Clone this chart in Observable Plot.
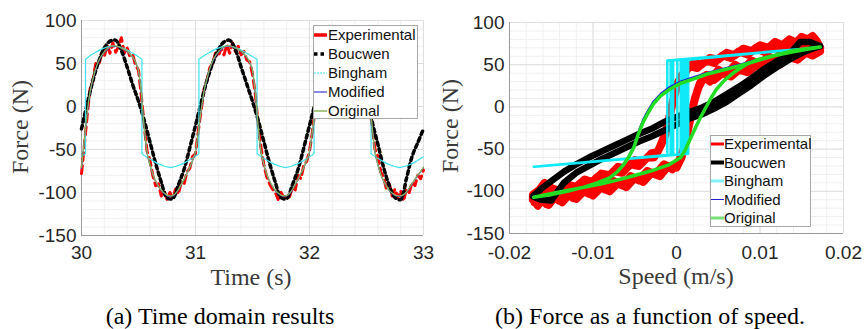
<!DOCTYPE html>
<html><head><meta charset="utf-8">
<script src="https://cdn.jsdelivr.net/npm/d3@7"></script>
<script src="https://cdn.jsdelivr.net/npm/@observablehq/plot@0.6"></script>
<style>
body{margin:0;background:#fff}
#root{position:relative;width:864px;height:329px;overflow:hidden;background:#fff}
.pl{position:absolute;top:0}
.ttl{position:absolute;font-family:"Liberation Serif","Times New Roman",serif;font-size:24px;line-height:24px;color:#3a3a3a;white-space:nowrap;transform:translate(-50%,-50%)}
.cap{position:absolute;font-family:"Liberation Serif","Times New Roman",serif;font-size:24px;line-height:24px;color:#000;white-space:nowrap;transform:translate(-50%,-50%)}
</style></head><body>
<div id="root">
  <div id="p1" class="pl" style="left:0"></div>
  <div id="p2" class="pl" style="left:432px"></div>
  <div class="ttl" style="left:20px;top:127px;transform:translate(-50%,-50%) rotate(-90deg)">Force (N)</div>
  <div class="ttl" style="left:450px;top:126px;transform:translate(-50%,-50%) rotate(-90deg)">Force (N)</div>
  <div class="ttl" style="left:251px;top:277px">Time (s)</div>
  <div class="ttl" style="left:676px;top:276px">Speed (m/s)</div>
  <div class="cap" style="left:220px;top:316px">(a) Time domain results</div>
  <div class="cap" style="left:650px;top:316px">(b) Force as a function of speed.</div>
</div>
<script>
// ---------- labels / ticks ----------
const seriesNames = ["Experimental", "Boucwen", "Bingham", "Modified", "Original"];
const timeTicks = [30, 31, 32, 33];
const forceTicks = [-150, -100, -50, 0, 50, 100];
const speedTicks = [-0.02, -0.01, 0, 0.01, 0.02];

// ---------- (a) time domain ----------
const timeS = [
30.000,30.025,30.050,30.075,30.100,30.125,30.150,30.175,30.200,30.225,
30.250,30.275,30.300,30.325,30.350,30.375,30.400,30.425,30.450,30.475,
30.500,30.525,30.550,30.575,30.600,30.625,30.650,30.675,30.700,30.725,
30.750,30.775,30.800,30.825,30.850,30.875,30.900,30.925,30.950,30.975,
31.000,31.025,31.050,31.075,31.100,31.125,31.150,31.175,31.200,31.225,
31.250,31.275,31.300,31.325,31.350,31.375,31.400,31.425,31.450,31.475,
31.500,31.525,31.550,31.575,31.600,31.625,31.650,31.675,31.700,31.725,
31.750,31.775,31.800,31.825,31.850,31.875,31.900,31.925,31.950,31.975,
32.000,32.025,32.050,32.075,32.100,32.125,32.150,32.175,32.200,32.225,
32.250,32.275,32.300,32.325,32.350,32.375,32.400,32.425,32.450,32.475,
32.500,32.525,32.550,32.575,32.600,32.625,32.650,32.675,32.700,32.725,
32.750,32.775,32.800,32.825,32.850,32.875,32.900,32.925,32.950,32.975,
33.000];
const expForceT = [
-78,-45,-10,20,30,50,48,60,58,72, 62,74,63,70,80,62,68,58,60,48,
42,12,-22,-52,-62,-80,-92,-90,-104,-98, -108,-100,-106,-96,-102,-88,-90,-76,-72,-58,
-55,-28,-4,20,30,45,50,62,58,68, 60,72,62,74,64,70,60,64,54,52,
38,14,-22,-48,-68,-82,-90,-96,-100,-108, -100,-106,-102,-105,-94,-97,-80,-84,-68,-64,
-52,-30,-2,20,32,44,52,60,64,68, 70,70,69,68,66,63,60,56,50,42,
30,5,-25,-50,-58,-76,-82,-96,-90,-104, -96,-106,-98,-110,-96,-100,-88,-92,-80,-84,
-74];
const modForceT = [
-72,-40,-8,16,31,43,52,58,63,66, 69,70,70,69,68,66,64,61,57,51,
41,14,-25,-54,-68,-79,-87,-93,-98,-101, -103.5,-104.5,-104,-101.5,-97,-91,-85,-78,-71,-63,
-53,-30,-5,17,31,43,52,58,63,66, 69,70,70,69,68,66,64,61,57,51,
41,14,-25,-54,-68,-79,-87,-93,-98,-101, -103.5,-104.5,-104,-101.5,-97,-91,-85,-78,-71,-63,
-53,-30,-5,17,31,43,52,58,63,66, 69,70,70,69,68,66,64,61,57,51,
41,14,-25,-54,-68,-79,-87,-93,-98,-101, -103.5,-104.5,-104.5,-103,-100,-95,-90,-85,-80,-76,
-71];
const origForceT = [
-71,-39,-7,17,32,44,53,59,63.5,67, 69.5,70.5,70.5,69.5,68,66.5,64.5,61,57.5,51.5,
42,15,-24,-53,-67.5,-78.5,-86.5,-92.5,-97.5,-100.5, -103,-104,-103.5,-101,-96.5,-90.5,-84.5,-77.5,-70.5,-62.5,
-52,-29,-4,18,32,44,53,59,63.5,67, 69.5,70.5,70.5,69.5,68,66.5,64.5,61,57.5,51.5,
42,15,-24,-53,-67.5,-78.5,-86.5,-92.5,-97.5,-100.5, -103,-104,-103.5,-101,-96.5,-90.5,-84.5,-77.5,-70.5,-62.5,
-52,-29,-4,18,32,44,53,59,63.5,67, 69.5,70.5,70.5,69.5,68,66.5,64.5,61,57.5,51.5,
42,15,-24,-53,-67.5,-78.5,-86.5,-92.5,-97.5,-100.5, -103,-104,-104,-102.5,-99.5,-94.5,-89.5,-84.5,-79.5,-75.5,
-70.5];
const bouTime = [
30.00,30.05,30.10,30.15,30.20,30.25,30.30,30.35,30.40,30.45,30.50,30.55,30.60,30.65,30.70,30.75,30.80,30.85,30.90,30.95,
31.00,31.05,31.10,31.15,31.20,31.25,31.30,31.35,31.40,31.45,31.50,31.55,31.60,31.65,31.70,31.75,31.80,31.85,31.90,31.95,
32.00,32.05,32.10,32.15,32.20,32.25,32.30,32.35,32.40,32.45,32.50,32.55,32.60,32.65,32.70,32.75,32.80,32.85,32.90,32.95,
33.00];
const bouForceT = [
-26,3,30,52,68,76,77,65,46,25,6,-16,-41,-66,-88,-106,-107,-91,-73,-48,
-22,5,30,50,66,75,77,66,46,26,6,-16,-41,-66,-88,-106,-107,-91,-73,-48,
-22,4,30,51,67,76,77,68,55,40,14,-18,-44,-71,-92,-106,-108,-84,-58,-42,
-26];
const binTime = [
30.00,30.035,30.035,30.08,30.13,30.18,30.23,30.28,30.33,30.38,30.43,30.48,30.53,30.53,30.58,30.63,30.68,30.73,30.78,30.83,30.88,30.93,30.98,
31.03,31.03,31.08,31.13,31.18,31.23,31.28,31.33,31.38,31.43,31.48,31.54,31.54,31.59,31.64,31.69,31.74,31.79,31.84,31.89,31.94,31.99,
32.04,32.04,32.09,32.14,32.19,32.24,32.29,32.34,32.39,32.44,32.49,32.54,32.54,32.59,32.64,32.69,32.74,32.79,32.84,32.89,32.94,33.00];
const binForceT = [
-58,-55,55,59.5,63.5,67,69.3,70.5,69.3,67,63.5,59.5,55,-55,-59.5,-63.5,-67,-69.5,-71,-69.5,-67,-63.5,-59.5,
-55,55,59.5,63.5,67,69.3,70.5,69.3,67,63.5,59.5,55,-55,-59.5,-63.5,-67,-69.5,-71,-69.5,-67,-63.5,-59.5,
-55,55,59.5,63.5,67,69.3,70.5,69.3,67,63.5,59.5,55,-55,-59.5,-63.5,-67,-69.5,-71,-69.5,-67,-63.5,-58.5];

// ---------- (b) force vs speed ----------
// experimental: two measured cycles (upper branch, then lower branch, twice)
const expSpeed = [
0.0172,0.0168,0.0163,0.0157,0.0150,0.0143,0.0135,0.0127,0.0118,0.0110,
0.0100,0.0090,0.0080,0.0070,0.0060,0.0050,0.0040,0.0030,0.0020,0.0012,
0.0005,0.0000,-0.0005,-0.0009,-0.0013,-0.0018,-0.0023,-0.0030,-0.0040,-0.0050,
-0.0060,-0.0070,-0.0080,-0.0090,-0.0100,-0.0110,-0.0120,-0.0130,-0.0140,-0.0150,
-0.0158,-0.0164,-0.0172,
-0.0172,-0.0166,-0.0160,-0.0153,-0.0145,-0.0137,-0.0128,-0.0120,-0.0110,-0.0100,
-0.0090,-0.0080,-0.0070,-0.0060,-0.0050,-0.0040,-0.0030,-0.0020,-0.0010,0.0000,
0.0006,0.0010,0.0014,0.0018,0.0022,0.0026,0.0030,0.0036,0.0045,0.0055,
0.0065,0.0075,0.0085,0.0095,0.0105,0.0115,0.0125,0.0135,0.0145,0.0155,
0.0163,0.0172,
0.0170,0.0165,0.0160,0.0153,0.0146,0.0139,0.0131,0.0122,0.0114,0.0105,
0.0095,0.0085,0.0075,0.0065,0.0055,0.0045,0.0035,0.0025,0.0016,0.0008,
0.0002,-0.0003,-0.0007,-0.0011,-0.0016,-0.0021,-0.0027,-0.0035,-0.0045,-0.0055,
-0.0065,-0.0075,-0.0085,-0.0095,-0.0105,-0.0115,-0.0125,-0.0135,-0.0145,-0.0155,
-0.0163,-0.0170,
-0.0170,-0.0163,-0.0156,-0.0149,-0.0141,-0.0132,-0.0124,-0.0115,-0.0105,-0.0095,
-0.0085,-0.0075,-0.0065,-0.0055,-0.0045,-0.0035,-0.0025,-0.0015,-0.0005,0.0003,
0.0008,0.0012,0.0016,0.0020,0.0024,0.0028,0.0033,0.0040,0.0050,0.0060,
0.0070,0.0080,0.0090,0.0100,0.0110,0.0120,0.0130,0.0140,0.0150,0.0160,
0.0170];
const expForceV = [
70,78,84,80,83,76,80,73,77,70,
73,66,69,61,64,56,58,50,52,44,
36,22,4,-14,-32,-44,-54,-55,-65,-63,
-73,-71,-81,-79,-89,-86,-95,-92,-100,-96,
-90,-98,-104,
-110,-117,-108,-116,-106,-113,-103,-109,-99,-105,
-95,-100,-90,-95,-84,-89,-78,-82,-70,-72,
-60,-44,-26,-8,10,22,30,38,32,40,
36,44,41,49,46,54,51,59,56,64,
61,66,
74,68,76,72,79,70,75,68,73,65,
70,62,66,58,61,52,55,46,48,38,
30,12,-6,-24,-38,-50,-60,-60,-70,-68,
-78,-76,-86,-83,-93,-90,-99,-95,-104,-99,
-108,-103,
-113,-106,-115,-104,-111,-101,-108,-97,-103,-93,
-98,-88,-93,-82,-87,-76,-80,-68,-74,-64,
-52,-35,-16,2,16,28,36,30,44,38,
50,44,55,50,60,55,65,60,70,64,
72];
const bouSpeed = [
0.0172,0.0160,0.0148,0.0135,0.0120,0.0105,0.0090,0.0075,0.0060,0.0045,0.0030,0.0015,0.0000,-0.0015,-0.0030,-0.0045,-0.0060,-0.0075,-0.0090,-0.0105,-0.0120,-0.0135,-0.0150,-0.0162,-0.0172,
-0.0162,-0.0150,-0.0135,-0.0120,-0.0105,-0.0090,-0.0075,-0.0060,-0.0045,-0.0030,-0.0015,0.0000,0.0015,0.0030,0.0045,0.0060,0.0075,0.0090,0.0105,0.0120,0.0135,0.0150,0.0160,0.0172];
const bouForceV = [
72,77,77,62,54,45,34,24,15,6,-1,-6,-12,-18,-26,-32,-39,-46,-53,-60,-68,-77,-88,-97,-106,
-110,-111,-90,-78,-70,-62,-55,-48,-41,-35,-28,-21,-14,-9,-2,6,16,26,37,47,56,64,68,72];
const binSpeed = [
0.0171,-0.0011,-0.0011,-0.0171,0.0008,0.0008,0.0171,-0.0007,-0.0007,-0.0170,0.0014,0.0014,0.0171,
0.0001,0.0001,-0.0171,0.0011,0.0011,0.0171,-0.0004,-0.0004,-0.0171,0.0005,0.0005,0.0171];
const binForceV = [
70.5,55,-57,-71,-56,55.5,70.5,55.2,-56.8,-71,-55.5,56,70.5,
55.5,-56.5,-71,-55.7,55.7,70.5,55.3,-56.6,-71,-56,55.5,70.5];
const modSpeed = [
0.0172,0.0155,0.0135,0.0117,0.0097,0.0077,0.0057,0.0037,0.0020,0.0005,-0.0008,-0.0019,-0.0028,-0.0035,-0.0040,-0.0046,-0.0051,-0.0057,-0.0063,-0.0071,-0.0080,-0.0095,-0.0111,-0.0131,-0.0151,-0.0171,
-0.0151,-0.0120,-0.0091,-0.0060,-0.0031,-0.0010,0.0005,0.0011,0.0017,0.0023,0.0029,0.0035,0.0041,0.0048,0.0058,0.0069,0.0083,0.0097,0.0117,0.0137,0.0155,0.0172];
const modForceV = [
71,68.5,65,61.5,56.5,51,46,41,35.5,30.5,24,16,6.5,-5,-14,-29,-45,-57,-66.5,-76,-83.5,-89.5,-94.5,-99.5,-103.5,-106.5,
-102.5,-96.5,-91,-83.5,-75.5,-68.5,-59,-48.5,-35.5,-22.5,-10.5,0.5,11.5,22.5,33,42,51,57,62,66.5,69.5,71];
const origSpeed = [
0.0172,0.0155,0.0135,0.0117,0.0097,0.0077,0.0057,0.0037,0.0020,0.0005,-0.0008,-0.0019,-0.0028,-0.0035,-0.0040,-0.0046,-0.0051,-0.0057,-0.0063,-0.0071,-0.0080,-0.0095,-0.0111,-0.0131,-0.0151,-0.0171,
-0.0151,-0.0120,-0.0091,-0.0060,-0.0031,-0.0010,0.0005,0.0011,0.0017,0.0023,0.0029,0.0035,0.0041,0.0048,0.0058,0.0069,0.0083,0.0097,0.0117,0.0137,0.0155,0.0172];
const origForceV = [
71,68,64.5,60.5,55,49,44,39,33,28,21,13,3,-9,-18,-33,-48,-59,-68,-77,-84,-90,-95,-100,-104,-107,
-103,-97,-91.5,-84,-76,-69,-60,-50,-37,-24,-12,-1,10,21,32,41,50,56,61,66,69,71];

// ---------- build ----------
const tbl = (xs, ys) => xs.map((x, i) => ({x, y: ys[i]}));
const fmt = d => String(d);
const sansFamily = '"Liberation Sans", Arial, sans-serif';
const baseStyle = {fontFamily: sansFamily, fontSize: "19px", color: "#262626", background: "transparent", overflow: "visible"};

const left = Plot.plot({
  width: 432, height: 270, marginLeft: 81, marginRight: 9, marginTop: 20, marginBottom: 35,
  style: baseStyle,
  x: {domain: [30, 33], ticks: timeTicks, tickFormat: fmt, tickSize: 0, tickPadding: 10, label: null},
  y: {domain: [-150, 100], ticks: forceTicks, tickFormat: fmt, tickSize: 0, tickPadding: 5, label: null},
  marks: [
    Plot.ruleX(d3.range(30, 33.0001, 0.2), {stroke: "#f0f0f0"}),
    Plot.ruleY(d3.range(-150, 100.001, 10), {stroke: "#f0f0f0"}),
    Plot.ruleX(timeTicks, {stroke: "#dedede"}),
    Plot.ruleY(forceTicks, {stroke: "#dedede"}),
    Plot.ruleX([30], {stroke: "#9a9a9a"}),
    Plot.ruleY([-150], {stroke: "#9a9a9a"}),
    Plot.line(tbl(timeS, expForceT), {x: "x", y: "y", stroke: "#ff0000", strokeWidth: 3, strokeDasharray: "8,5"}),
    Plot.line(tbl(bouTime, bouForceT), {x: "x", y: "y", stroke: "#000", strokeWidth: 3.5, strokeDasharray: "3.5,3.5", curve: "catmull-rom"}),
    Plot.line(tbl(binTime, binForceT), {x: "x", y: "y", stroke: "#3fe3ef", strokeWidth: 1.2}),
    Plot.line(tbl(timeS, modForceT), {x: "x", y: "y", stroke: "#2828c8", strokeWidth: 1.1, curve: "monotone-x"}),
    Plot.line(tbl(timeS, origForceT), {x: "x", y: "y", stroke: "#8cb45c", strokeWidth: 1.3, curve: "monotone-x"})
  ]
});
document.getElementById("p1").appendChild(left);

const right = Plot.plot({
  width: 432, height: 270, marginLeft: 77, marginRight: 21, marginTop: 22, marginBottom: 37,
  style: baseStyle,
  x: {domain: [-0.02, 0.02], ticks: speedTicks, tickFormat: fmt, tickSize: 0, tickPadding: 12, label: null},
  y: {domain: [-150, 100], ticks: forceTicks, tickFormat: fmt, tickSize: 0, tickPadding: 5, label: null},
  marks: [
    Plot.ruleX(d3.range(-0.02, 0.02001, 0.002), {stroke: "#f0f0f0"}),
    Plot.ruleY(d3.range(-150, 100.001, 10), {stroke: "#f0f0f0"}),
    Plot.ruleX(speedTicks, {stroke: "#dedede"}),
    Plot.ruleY(forceTicks, {stroke: "#dedede"}),
    Plot.ruleX([-0.02], {stroke: "#9a9a9a"}),
    Plot.ruleY([-150], {stroke: "#9a9a9a"}),
    Plot.line(tbl(expSpeed, expForceV), {x: "x", y: "y", stroke: "#ff0000", strokeWidth: 8, strokeLinejoin: "round"}),
    Plot.line(tbl(bouSpeed, bouForceV), {x: "x", y: "y", stroke: "#000", strokeWidth: 6.5, strokeLinejoin: "round"}),
    Plot.line(tbl(binSpeed, binForceV), {x: "x", y: "y", stroke: "#10eaf8", strokeWidth: 2.5}),
    Plot.line(tbl(modSpeed, modForceV), {x: "x", y: "y", stroke: "#1a1ae0", strokeWidth: 1.3}),
    Plot.line(tbl(origSpeed, origForceV), {x: "x", y: "y", stroke: "#22dd22", strokeWidth: 3.5, strokeLinejoin: "round"})
  ]
});
document.getElementById("p2").appendChild(right);

// ---------- legends (SVG) ----------
function legend(box, rows, ys, textX) {
  const [bx, by, bw, bh] = box;
  const svg = d3.create("svg")
    .attr("width", bw).attr("height", bh)
    .style("position", "absolute").style("left", bx + "px").style("top", by + "px").style("overflow", "visible");
  svg.append("rect").attr("x", 0.5).attr("y", 0.5).attr("width", bw - 1).attr("height", bh - 1)
    .attr("fill", "#fff").attr("stroke", "#a8a8a8").attr("stroke-width", 1);
  rows.forEach((r, i) => {
    svg.append("line").attr("x1", 1).attr("x2", 14).attr("y1", ys[i]).attr("y2", ys[i])
      .attr("stroke", r.c).attr("stroke-width", r.w).attr("stroke-dasharray", r.d || null);
    svg.append("text").attr("x", textX).attr("y", ys[i]).attr("dy", "0.36em")
      .style("font-family", sansFamily).style("font-size", "15px").attr("fill", "#111")
      .text(seriesNames[i]);
  });
  document.getElementById("root").appendChild(svg.node());
}
legend([313, 25, 105, 94], [
  {c: "#ff0000", w: 3.5},
  {c: "#000", w: 3.5, d: "3.5,3"},
  {c: "#3fe3ef", w: 1.2, d: "2,1"},
  {c: "#2828c8", w: 1.1},
  {c: "#8cb45c", w: 1.5}
], [10, 29, 48, 67, 86], 15);
legend([710, 135, 101, 92], [
  {c: "#ff0000", w: 3},
  {c: "#000", w: 4},
  {c: "#80f2f6", w: 3},
  {c: "#2222cc", w: 1},
  {c: "#77e077", w: 3}
], [9, 27.5, 46, 64.5, 83], 14);
</script>
</body></html>
